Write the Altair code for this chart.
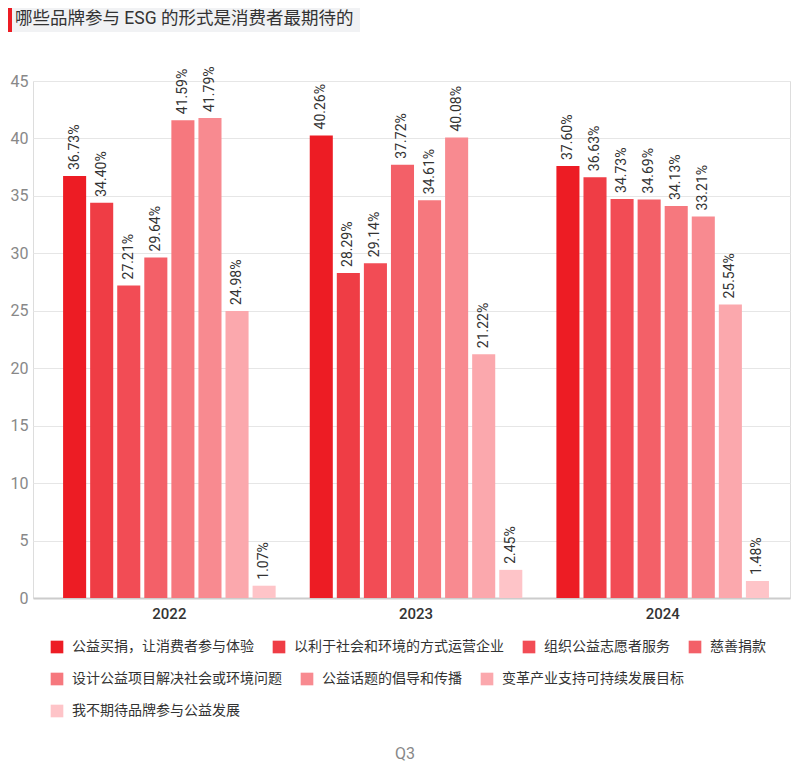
import altair as alt
import pandas as pd

years = ["2022", "2023", "2024"]
series = [
    "公益买捐，让消费者参与体验",
    "以利于社会和环境的方式运营企业",
    "组织公益志愿者服务",
    "慈善捐款",
    "设计公益项目解决社会或环境问题",
    "公益话题的倡导和传播",
    "变革产业支持可持续发展目标",
    "我不期待品牌参与公益发展",
]
v2022 = [36.73, 34.40, 27.21, 29.64, 41.59, 41.79, 24.98, 1.07]
v2023 = [40.26, 28.29, 29.14, 37.72, 34.61, 40.08, 21.22, 2.45]
v2024 = [37.60, 36.63, 34.73, 34.69, 34.13, 33.21, 25.54, 1.48]
colors = ["#ED1C24", "#EF3D45", "#F24C55", "#F36068",
          "#F6787E", "#F88A90", "#FBA8AD", "#FEC4C8"]
title_text = "哪些品牌参与 ESG 的形式是消费者最期待的"
footer_text = "Q3"

rows = []
for y, vals in zip(years, [v2022, v2023, v2024]):
    for s, v in zip(series, vals):
        rows.append({"year": y, "series": s, "value": v, "label": f"{v:.2f}%"})
df = pd.DataFrame(rows)

FONT = "Roboto, 'Noto Sans CJK SC', sans-serif"

x_enc = alt.X("year:N", sort=years,
              scale=alt.Scale(paddingInner=0.122, paddingOuter=0.0955, align=0.596),
              axis=alt.Axis(title=None, labelAngle=0, domain=True, domainColor="#cccccc",
                            domainWidth=2, ticks=False, labelFontSize=15, labelFontWeight=500,
                            labelColor="#333333", labelPadding=8, grid=False))
xo_enc = alt.XOffset("series:N", scale=alt.Scale(domain=series, paddingInner=0.148, paddingOuter=0.074))
y_enc = alt.Y("value:Q", scale=alt.Scale(domain=[0, 45], nice=False),
              axis=alt.Axis(title=None, values=list(range(0, 50, 5)), grid=True, gridColor="#e6e6e6",
                            domain=False, ticks=False, labelPadding=5, labelFontSize=16,
                            labelColor="#888888"))

base = alt.Chart(df).encode(x=x_enc, xOffset=xo_enc, y=y_enc)

def legend_args(ly):
    return dict(title=None, orient="none", legendX=17, legendY=ly, direction="horizontal",
                symbolType="square", symbolSize=160, symbolStrokeWidth=0,
                labelFontSize=14, labelColor="#333333", labelOffset=8, columnPadding=18,
                labelFont=FONT, labelLimit=400)

groups = [(series[:4], colors[:4], 559), (series[4:7], colors[4:7], 591), (series[7:], colors[7:], 623)]
bar_layers = []
for names, cols, ly in groups:
    bar_layers.append(
        base.transform_filter(alt.FieldOneOfPredicate(field="series", oneOf=names))
        .mark_bar()
        .encode(color=alt.Color("series:N", sort=names,
                                scale=alt.Scale(domain=names, range=cols),
                                legend=alt.Legend(**legend_args(ly))))
    )

labels = base.mark_text(angle=270, align="left", baseline="middle", dx=6,
                        fontSize=14, color="#333333", font=FONT).encode(text="label:N")

tdf = pd.DataFrame({"t": [title_text]})
title_bg = alt.Chart(tdf).mark_rect(color="#f1f2f4").encode(
    x=alt.value(-25), x2=alt.value(327), y=alt.value(-73), y2=alt.value(-49))
title_bar = alt.Chart(tdf).mark_rect(color="#ED1C24").encode(
    x=alt.value(-25), x2=alt.value(-21), y=alt.value(-73), y2=alt.value(-49))
title_txt = alt.Chart(tdf).mark_text(align="left", baseline="middle", fontSize=17.5,
                                     color="#333333", font=FONT).encode(
    x=alt.value(-18), y=alt.value(-62), text="t:N")

fdf = pd.DataFrame({"t": [footer_text]})
footer = alt.Chart(fdf).mark_text(align="center", baseline="middle", fontSize=16,
                                  color="#888888", font=FONT).encode(
    x=alt.value(372), y=alt.value(673), text="t:N")

chart = alt.layer(*bar_layers, labels, title_bg, title_bar, title_txt, footer).resolve_scale(
    color="independent"
).properties(
    width=757, height=517,
    padding={"left": 25, "top": 73, "right": 2, "bottom": 167},
    autosize=alt.AutoSizeParams(type="none"),
).configure_view(strokeWidth=0).configure(font=FONT)

chart.save("out.html", embed_options={"renderer": "svg", "actions": False})
